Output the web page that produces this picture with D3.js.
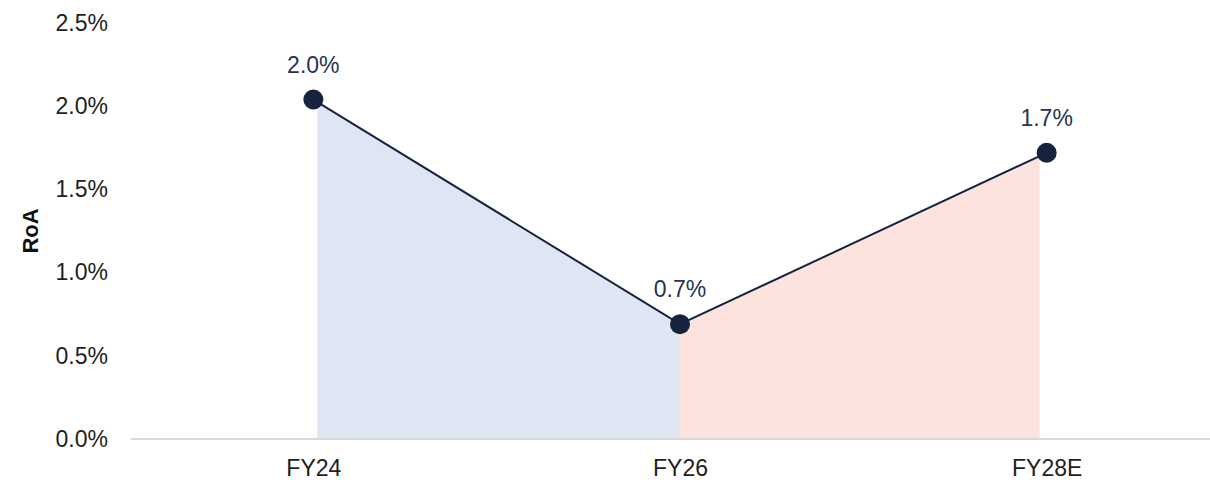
<!DOCTYPE html>
<html>
<head>
<meta charset="utf-8">
<script src="https://cdn.jsdelivr.net/npm/d3@7"></script>
<style>
  html, body { margin: 0; padding: 0; background: #ffffff; }
  svg { display: block; }
  text { font-family: "Liberation Sans", Arial, sans-serif; }
</style>
</head>
<body>
<svg id="chart" width="1210" height="480"></svg>
<script>
// ---- data ----
const categories = ["FY24", "FY26", "FY28E"];
const roaValues = [2.04, 0.69, 1.72];
const dataLabels = ["2.0%", "0.7%", "1.7%"];
const yTicks = [0, 0.5, 1.0, 1.5, 2.0, 2.5];
const yTitle = "RoA";
const segmentFills = ["#dfe6f3", "#fde3dd"];

// ---- layout ----
const W = 1210, H = 480;
const plotLeft = 130, plotRight = 1230, plotTop = 23, plotBottom = 439;

const svg = d3.select("#chart");

const x = d3.scalePoint().domain(categories).range([plotLeft, plotRight]).padding(0.5);
const y = d3.scaleLinear().domain([0, 2.5]).range([plotBottom, plotTop]);

const pts = categories.map((c, i) => ({ cat: c, v: roaValues[i], label: dataLabels[i] }));

// clip for shaded area (fill slightly inset from the end points)
const first = x(categories[0]), last = x(categories[categories.length - 1]);
svg.append("defs").append("clipPath").attr("id", "areaClip")
  .append("rect")
  .attr("x", first + 4).attr("y", 0)
  .attr("width", (last - 7) - (first + 4)).attr("height", H);

// shaded segments
const area = d3.area().x(d => x(d.cat)).y0(y(0)).y1(d => y(d.v));
const ga = svg.append("g").attr("clip-path", "url(#areaClip)");
for (let i = 0; i < pts.length - 1; i++) {
  ga.append("path")
    .datum([pts[i], pts[i + 1]])
    .attr("d", area)
    .attr("fill", segmentFills[i]);
}

// baseline axis
svg.append("line")
  .attr("x1", plotLeft + 1).attr("x2", W)
  .attr("y1", y(0)).attr("y2", y(0))
  .attr("stroke", "#d8d8d8").attr("stroke-width", 2);

// y axis labels
const yAxis = d3.axisLeft(y).tickValues(yTicks).tickFormat(d => d3.format(".1f")(d) + "%").tickSize(0).tickPadding(0);
const gy = svg.append("g").attr("transform", `translate(108,0)`).call(yAxis);
gy.select(".domain").remove();
gy.selectAll("text")
  .attr("fill", "#1e1e1e")
  .style("font-size", "23px")
  .style("font-family", "'Liberation Sans', Arial, sans-serif");

// x axis labels
const xAxis = d3.axisBottom(x).tickSize(0).tickPadding(0);
const gx = svg.append("g").attr("transform", `translate(0,${y(0) + 21})`).call(xAxis);
gx.select(".domain").remove();
gx.selectAll("text")
  .attr("fill", "#1e1e1e")
  .style("font-size", "23px")
  .style("font-family", "'Liberation Sans', Arial, sans-serif");

// y title
svg.append("text")
  .attr("transform", `translate(38,${(plotTop + plotBottom) / 2}) rotate(-90)`)
  .attr("text-anchor", "middle")
  .attr("fill", "#111")
  .style("font-size", "22px")
  .style("font-weight", "bold")
  .text(yTitle);

// line
const line = d3.line().x(d => x(d.cat)).y(d => y(d.v));
svg.append("path")
  .datum(pts)
  .attr("d", line)
  .attr("fill", "none")
  .attr("stroke", "#16233f")
  .attr("stroke-width", 2);

// points
svg.selectAll("circle.pt").data(pts).enter().append("circle")
  .attr("class", "pt")
  .attr("cx", d => x(d.cat)).attr("cy", d => y(d.v))
  .attr("r", 10)
  .attr("fill", "#16233f");

// data labels
svg.selectAll("text.lbl").data(pts).enter().append("text")
  .attr("class", "lbl")
  .attr("x", d => x(d.cat)).attr("y", d => y(d.v) - 27)
  .attr("text-anchor", "middle")
  .attr("fill", "#26344f")
  .style("font-size", "23px")
  .text(d => d.label);
</script>
</body>
</html>
